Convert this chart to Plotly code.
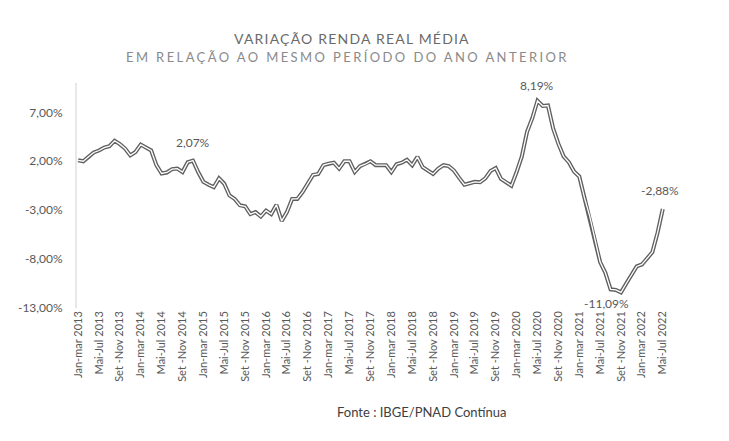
import plotly.graph_objects as go

# ---- data ----
tri_names = ["Jan-mar", "Fev-abr", "Mar-mai", "Abr-jun", "Mai-Jul", "Jun-ago",
             "Jul-set", "Ago-out", "Set -Nov", "Out-dez", "Nov-jan", "Dez-fev"]
start_year = 2013
n_periods = 113

values = [
    2.1, 2.0, 2.45, 2.9, 3.1, 3.4, 3.55, 4.1, 3.75, 3.3,
    2.6, 2.95, 3.7, 3.4, 3.1, 1.6, 0.75, 0.85, 1.2, 1.25,
    0.9, 1.9, 2.07, 0.9, -0.1, -0.4, -0.65, 0.25, -0.3, -1.5,
    -1.85, -2.5, -2.6, -3.4, -3.2, -3.65, -3.05, -3.4, -2.45, -4.1,
    -3.2, -1.85, -1.85, -1.15, -0.3, 0.6, 0.7, 1.6, 1.75, 1.85,
    1.25, 2.0, 2.0, 0.9, 1.5, 1.7, 2.0, 1.6, 1.6, 1.6,
    0.9, 1.7, 1.85, 2.15, 1.6, 2.45, 1.4, 1.05, 0.7, 1.25,
    1.6, 1.5, 1.05, 0.3, -0.4, -0.25, -0.1, -0.15, 0.25, 1.0,
    1.3, 0.2, -0.15, -0.5, 0.9, 2.5, 5.0, 6.4, 8.19, 7.65,
    7.7, 5.35, 3.8, 2.5, 1.9, 0.95, 0.45, -1.75, -3.6, -5.9,
    -8.3, -9.4, -11.09, -11.15, -11.4, -10.5, -9.55, -8.75, -8.55, -7.95,
    -7.3, -5.3, -2.88,
]

tick_labels = [
    "Jan-mar 2013", "Mai-Jul 2013", "Set -Nov 2013",
    "Jan-mar 2014", "Mai-Jul 2014", "Set -Nov 2014",
    "Jan-mar 2015", "Mai-Jul 2015", "Set -Nov 2015",
    "Jan-mar 2016", "Mai-Jul 2016", "Set -Nov 2016",
    "Jan-mar 2017", "Mai-Jul 2017", "Set -Nov 2017",
    "Jan-mar 2018", "Mai-Jul 2018", "Set -Nov 2018",
    "Jan-mar 2019", "Mai-Jul 2019", "Set -Nov 2019",
    "Jan-mar 2020", "Mai-Jul 2020", "Set -Nov 2020",
    "Jan-mar 2021", "Mai-Jul 2021", "Set -Nov 2021",
    "Jan-mar 2022", "Mai-Jul 2022",
]

labeled_idx = [22, 88, 102, 112]
label_shift = {22: (0, 18), 88: (0, 15), 102: (-4, -14), 112: (-3, 19)}

y_ticks = [-13, -8, -3, 2, 7]

# ---- categories ----
periods = []
for i in range(n_periods):
    m = i % 12
    yr = start_year + i // 12
    periods.append(f"{tri_names[m]} {yr}")

tick_vals = [periods[i] for i in range(0, n_periods, 4)]

GRAY = "#5f5f5f"
TXT = "#595959"
FONT = "Lato, Carlito, Calibri, sans-serif"


def fmt(v):
    return f"{v:.2f}%".replace(".", ",")


fig = go.Figure()
fig.add_trace(go.Scatter(x=periods, y=values, mode="lines",
                         line=dict(color=GRAY, width=4), hoverinfo="skip",
                         showlegend=False))
fig.add_trace(go.Scatter(x=periods, y=values, mode="lines",
                         line=dict(color="white", width=1.3),
                         showlegend=False))

for i in labeled_idx:
    dx, dy = label_shift[i]
    fig.add_annotation(x=periods[i], y=values[i], text=fmt(values[i]),
                       showarrow=False, xshift=dx, yshift=dy,
                       font=dict(family=FONT, size=12, color=TXT))

fig.add_annotation(xref="paper", yref="paper", x=0.466, y=1, yshift=45,
                   yanchor="middle", showarrow=False,
                   text='<span style="letter-spacing:1.2px">VARIAÇÃO RENDA REAL MÉDIA</span>',
                   font=dict(family=FONT, size=14, color="#6a6a6a"))
fig.add_annotation(xref="paper", yref="paper", x=0.458, y=1, yshift=26,
                   yanchor="middle", showarrow=False,
                   text='<span style="letter-spacing:2.4px">EM RELAÇÃO AO MESMO PERÍODO DO ANO ANTERIOR</span>',
                   font=dict(family=FONT, size=13, color="#8a8a8a"))
fig.add_annotation(xref="paper", yref="paper", x=0.583, y=0, yshift=-104,
                   yanchor="middle", showarrow=False,
                   text="Fonte : IBGE/PNAD Contínua",
                   font=dict(family=FONT, size=13, color="#404040"))

fig.update_layout(
    width=729, height=441,
    margin=dict(l=76, r=61, t=83, b=133),
    paper_bgcolor="white", plot_bgcolor="white",
    separators=",.",
    showlegend=False,
    font=dict(family=FONT, color=TXT),
)
fig.update_xaxes(
    type="category", range=[-0.4, 113],
    tickmode="array", tickvals=tick_vals, ticktext=tick_labels,
    tickangle=-90, tickfont=dict(family=FONT, size=11, color=TXT),
    showgrid=False, showline=False, zeroline=False, ticks="",
)
fig.update_yaxes(
    range=[-13, 10], tickmode="array", tickvals=y_ticks,
    ticktext=[fmt(v) for v in y_ticks],
    tickfont=dict(family=FONT, size=12, color=TXT),
    showgrid=False, zeroline=False, showline=False,
    ticks="outside", ticklen=10, tickcolor="rgba(0,0,0,0)",
)
# left vertical axis line
fig.add_shape(type="line", xref="paper", yref="paper", x0=0, x1=0, y0=0, y1=1,
              line=dict(color="#d0d0d0", width=1))

fig.write_html("out.html")
